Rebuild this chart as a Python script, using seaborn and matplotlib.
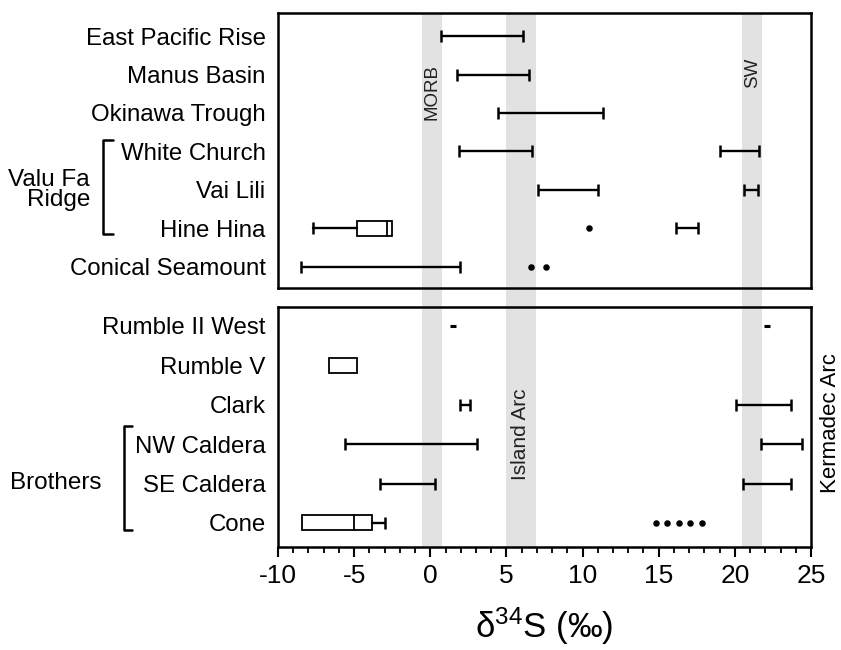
import matplotlib
matplotlib.use("Agg")
import matplotlib.pyplot as plt
import seaborn as sns
import pandas as pd
from matplotlib.patches import Rectangle
from matplotlib.lines import Line2D

# --- data (d34S, permil) ---
top_sites = ["East Pacific Rise", "Manus Basin", "Okinawa Trough", "White Church",
             "Vai Lili", "Hine Hina", "Conical Seamount"]
top_range_site = ["East Pacific Rise", "Manus Basin", "Okinawa Trough", "White Church",
                  "White Church", "Vai Lili", "Vai Lili", "Hine Hina", "Conical Seamount"]
top_range_lo = [0.7, 1.75, 4.45, 1.9, 19.0, 7.1, 20.6, 16.15, -8.5]
top_range_hi = [6.1, 6.45, 11.35, 6.7, 21.6, 11.0, 21.5, 17.6, 1.95]
top_dot_site = ["Hine Hina", "Conical Seamount", "Conical Seamount"]
top_dot_val = [10.45, 6.6, 7.6]
# box: site, low, high, median, whisker low, whisker high
top_box_site = ["Hine Hina"]
top_box_lo = [-4.8]
top_box_hi = [-2.5]
top_box_med = [-2.85]
top_box_wlo = [-7.7]
top_box_whi = [None]

bot_sites = ["Rumble II West", "Rumble V", "Clark", "NW Caldera", "SE Caldera", "Cone"]
bot_range_site = ["Clark", "Clark", "NW Caldera", "NW Caldera", "SE Caldera", "SE Caldera"]
bot_range_lo = [1.95, 20.05, -5.6, 21.7, -3.3, 20.55]
bot_range_hi = [2.6, 23.7, 3.05, 24.4, 0.28, 23.7]
bot_dash_site = ["Rumble II West", "Rumble II West"]
bot_dash_val = [1.5, 22.1]
bot_dot_site = ["Cone", "Cone", "Cone", "Cone", "Cone"]
bot_dot_val = [14.8, 15.55, 16.3, 17.05, 17.85]
bot_box_site = ["Rumble V", "Cone"]
bot_box_lo = [-6.65, -8.45]
bot_box_hi = [-4.8, -3.8]
bot_box_med = [None, -5.0]
bot_box_wlo = [None, None]
bot_box_whi = [None, -3.0]

band_names = ["MORB", "Island Arc", "SW"]
band_lo = [-0.55, 4.95, 20.5]
band_hi = [0.75, 6.95, 21.8]

sns.set_theme(style="white")
plt.rcParams["font.family"] = ["Liberation Sans", "DejaVu Sans"]
plt.rcParams["mathtext.default"] = "regular"
plt.rcParams["text.color"] = "black"
plt.rcParams["xtick.color"] = "black"
plt.rcParams["ytick.color"] = "black"
plt.rcParams["axes.labelcolor"] = "black"

W, H = 841, 650
fig = plt.figure(figsize=(W / 100, H / 100), dpi=100)


def px_box(x0, y0, x1, y1):
    return [x0 / W, 1 - y1 / H, (x1 - x0) / W, (y1 - y0) / H]


ax_top = fig.add_axes(px_box(278, 13, 811, 288))
ax_bot = fig.add_axes(px_box(278, 307, 811, 547))
band_color = "#e2e2e2"


def draw_panel(ax, sites, r_site, r_lo, r_hi, d_site, d_val, b_site, b_lo, b_hi, b_med,
               b_wlo, b_whi, dash_site=None, dash_val=None):
    row = {s: i for i, s in enumerate(sites)}
    rng = pd.DataFrame({"site": r_site, "lo": r_lo, "hi": r_hi})
    rng["y"] = rng["site"].map(row)
    ax.errorbar(x=(rng["lo"] + rng["hi"]) / 2, y=rng["y"], xerr=(rng["hi"] - rng["lo"]) / 2,
                fmt="none", ecolor="black", elinewidth=1.7, capsize=4.2, capthick=1.8, zorder=3)
    dots = pd.DataFrame({"site": d_site, "val": d_val})
    dots["y"] = dots["site"].map(row)
    sns.scatterplot(data=dots, x="val", y="y", color="black", s=22, linewidth=0, ax=ax, zorder=4)
    if dash_site:
        dash = pd.DataFrame({"site": dash_site, "val": dash_val})
        dash["y"] = dash["site"].map(row)
        ax.plot(dash["val"], dash["y"], ls="none", marker="_", ms=4, mew=2.2, color="black", zorder=4)
    h = 0.38
    for s, lo, hi, med, wlo, whi in zip(b_site, b_lo, b_hi, b_med, b_wlo, b_whi):
        y = row[s]
        ax.add_patch(Rectangle((lo, y - h / 2), hi - lo, h, facecolor="white",
                               edgecolor="black", lw=1.3, zorder=3))
        if med is not None:
            ax.plot([med, med], [y - h / 2, y + h / 2], color="black", lw=1.3, zorder=4)
        if wlo is not None:
            ax.plot([wlo, lo], [y, y], color="black", lw=1.7, zorder=3)
            ax.plot([wlo], [y], marker="|", ms=8.4, mew=1.8, color="black", zorder=3)
        if whi is not None:
            ax.plot([hi, whi], [y, y], color="black", lw=1.7, zorder=3)
            ax.plot([whi], [y], marker="|", ms=8.4, mew=1.8, color="black", zorder=3)
    ax.set_yticks(range(len(sites)))
    ax.set_yticklabels(sites, fontsize=17.3)
    ax.tick_params(axis="y", length=0, pad=9)
    ax.set_xlim(-10, 25)
    ax.set_xlabel("")
    ax.set_ylabel("")
    for sp in ax.spines.values():
        sp.set_linewidth(1.8)
        sp.set_color("black")


draw_panel(ax_top, top_sites, top_range_site, top_range_lo, top_range_hi, top_dot_site,
           top_dot_val, top_box_site, top_box_lo, top_box_hi, top_box_med, top_box_wlo, top_box_whi)
draw_panel(ax_bot, bot_sites, bot_range_site, bot_range_lo, bot_range_hi, bot_dot_site,
           bot_dot_val, bot_box_site, bot_box_lo, bot_box_hi, bot_box_med, bot_box_wlo, bot_box_whi,
           bot_dash_site, bot_dash_val)

ax_top.set_ylim(6.55, -0.6)
ax_bot.set_ylim(5.61, -0.48)

# grey reference bands, the top ones run down through the gap
for lo, hi in zip(band_lo, band_hi):
    ax_top.axvspan(lo, hi, ymin=-19 / 275, ymax=1, color=band_color, lw=0, zorder=0, clip_on=False)
    ax_bot.axvspan(lo, hi, color=band_color, lw=0, zorder=0)

ax_top.text((band_lo[0] + band_hi[0]) / 2, 1.45, band_names[0], rotation=90, ha="center",
            va="center", fontsize=13.5, color="#222222")
ax_top.text((band_lo[2] + band_hi[2]) / 2, 0.95, band_names[2], rotation=90, ha="center",
            va="center", fontsize=13.5, color="#222222")
ax_bot.text((band_lo[1] + band_hi[1]) / 2, 2.74, band_names[1], rotation=90, ha="center",
            va="center", fontsize=15, color="#222222")

ax_top.tick_params(axis="x", bottom=False, labelbottom=False)
ax_bot.set_xticks(range(-10, 26, 5))
ax_bot.set_xticks(range(-10, 26, 1), minor=True)
ax_bot.set_xticklabels([str(t) for t in range(-10, 26, 5)], fontsize=19)
ax_bot.tick_params(axis="x", which="major", direction="out", length=7, width=1.5,
                   bottom=True, pad=5)
ax_bot.tick_params(axis="x", which="minor", direction="out", length=4.5, width=1.3, bottom=True)
ax_bot.set_xlabel("δ$^{34}$S (‰)", fontsize=25, labelpad=13)

# group brackets and labels on the left
def fx(x):
    return x / W


def fy(y):
    return 1 - y / H


for x, y0, y1, tick in [(103, 140, 234, 113), (124, 426, 530, 132)]:
    fig.add_artist(Line2D([fx(tick), fx(x), fx(x), fx(tick)], [fy(y0), fy(y0), fy(y1), fy(y1)],
                          color="black", lw=1.8))
fig.text(fx(90), fy(190), "Valu Fa\nRidge", ha="right", va="center", fontsize=17.5,
         linespacing=0.85)
fig.text(fx(102), fy(483), "Brothers", ha="right", va="center", fontsize=17.5)
fig.text(fx(830), fy(423), "Kermadec Arc", rotation=90, ha="center", va="center", fontsize=16)

fig.savefig("out.png", dpi=100, facecolor="white")
